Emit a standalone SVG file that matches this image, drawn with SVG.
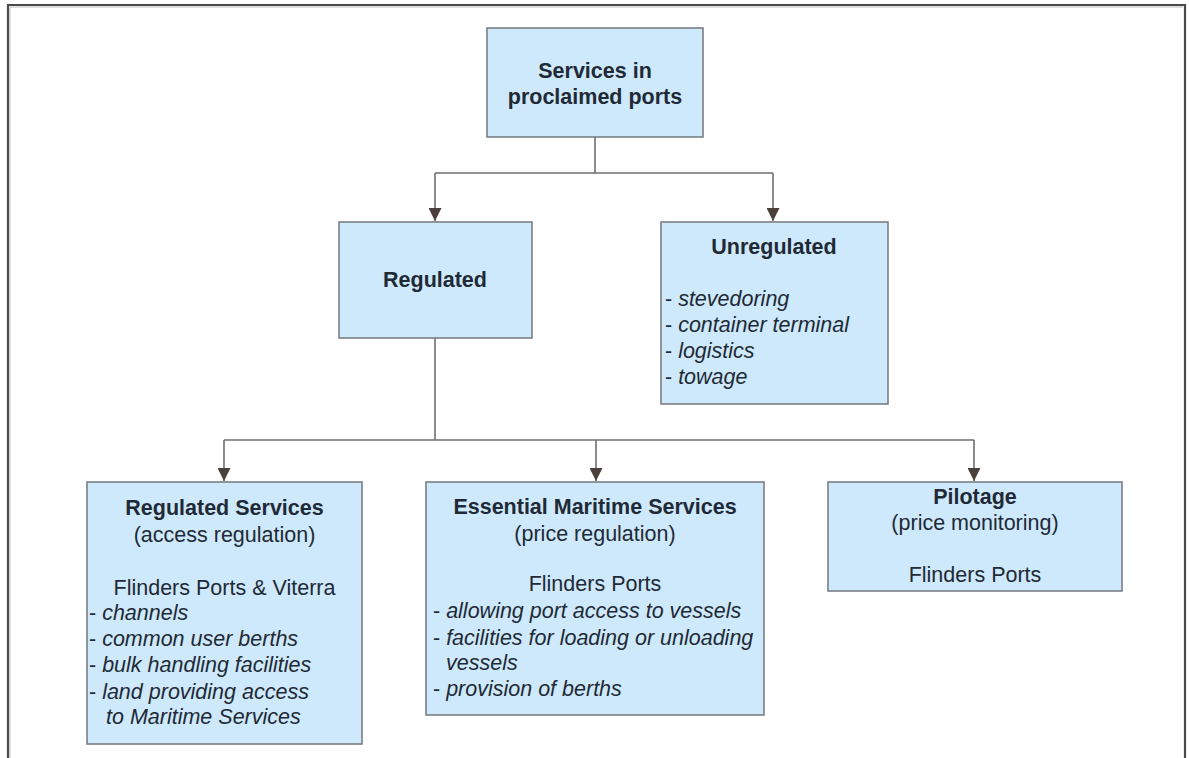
<svg xmlns="http://www.w3.org/2000/svg" width="1189" height="758" viewBox="0 0 1189 758">
<style>
.box{fill:#cde9fb;stroke:#7a7f85;stroke-width:1.6}
.t{font-family:"Liberation Sans",Arial,sans-serif;font-size:21.5px;fill:#1f2a36}
.b{font-weight:bold}
.i{font-style:italic}
.c{text-anchor:middle}
.conn{fill:none;stroke:#6f6f6f;stroke-width:1.6}
.frame{fill:none;stroke:#4a4a4a;stroke-width:2.2}
</style>
<defs>
<marker id="arr" viewBox="0 0 13 13" refX="13" refY="6.5" markerWidth="13" markerHeight="13" markerUnits="userSpaceOnUse" orient="auto">
<path d="M0,0 L13,6.5 L0,13 Z" fill="#4b3f3a"/>
</marker>
</defs>
<rect width="1189" height="758" fill="#ffffff"/>
<path class="frame" d="M8,758 V5 H1185 V758"/>
<path d="M10,758 V7 H1183" fill="none" stroke="#bdbdbd" stroke-width="1"/>

<g id="connectors">
<path class="conn" d="M595,137 V173 M435,173 H773"/>
<path class="conn" d="M435,173 V221" marker-end="url(#arr)"/>
<path class="conn" d="M773,173 V221" marker-end="url(#arr)"/>
<path class="conn" d="M435,338 V440 M224,440 H974"/>
<path class="conn" d="M224,440 V481" marker-end="url(#arr)"/>
<path class="conn" d="M596,440 V481" marker-end="url(#arr)"/>
<path class="conn" d="M974,440 V481" marker-end="url(#arr)"/>
</g>

<g id="services-in-proclaimed-ports">
<rect class="box" x="487" y="28" width="216" height="109"/>
<text class="t b c" x="595" y="78">Services in</text>
<text class="t b c" x="595" y="104">proclaimed ports</text>
</g>

<g id="regulated">
<rect class="box" x="339" y="222" width="193" height="116"/>
<text class="t b c" x="435" y="287">Regulated</text>
</g>

<g id="unregulated">
<rect class="box" x="661" y="222" width="227" height="182"/>
<text class="t b c" x="774" y="254">Unregulated</text>
<text class="t" x="665" y="306">- <tspan class="i">stevedoring</tspan></text>
<text class="t" x="665" y="332">- <tspan class="i">container terminal</tspan></text>
<text class="t" x="665" y="358">- <tspan class="i">logistics</tspan></text>
<text class="t" x="665" y="384">- <tspan class="i">towage</tspan></text>
</g>

<g id="regulated-services">
<rect class="box" x="87" y="482" width="275" height="262"/>
<text class="t b c" x="224.5" y="515">Regulated Services</text>
<text class="t c" x="224.5" y="542">(access regulation)</text>
<text class="t c" x="224.5" y="595">Flinders Ports &amp; Viterra</text>
<text class="t" x="89" y="620">- <tspan class="i">channels</tspan></text>
<text class="t" x="89" y="646">- <tspan class="i">common user berths</tspan></text>
<text class="t" x="89" y="672">- <tspan class="i">bulk handling facilities</tspan></text>
<text class="t" x="89" y="699">- <tspan class="i">land providing access</tspan></text>
<text class="t i" x="106" y="724">to Maritime Services</text>
</g>

<g id="essential-maritime-services">
<rect class="box" x="426" y="482" width="338" height="233"/>
<text class="t b c" x="595" y="514">Essential Maritime Services</text>
<text class="t c" x="595" y="541">(price regulation)</text>
<text class="t c" x="595" y="591">Flinders Ports</text>
<text class="t" x="433" y="618">- <tspan class="i">allowing port access to vessels</tspan></text>
<text class="t" x="433" y="645">- <tspan class="i">facilities for loading or unloading</tspan></text>
<text class="t i" x="446" y="670">vessels</text>
<text class="t" x="433" y="696">- <tspan class="i">provision of berths</tspan></text>
</g>

<g id="pilotage">
<rect class="box" x="828" y="482" width="294" height="109"/>
<text class="t b c" x="975" y="504">Pilotage</text>
<text class="t c" x="975" y="530">(price monitoring)</text>
<text class="t c" x="975" y="582">Flinders Ports</text>
</g>
</svg>
